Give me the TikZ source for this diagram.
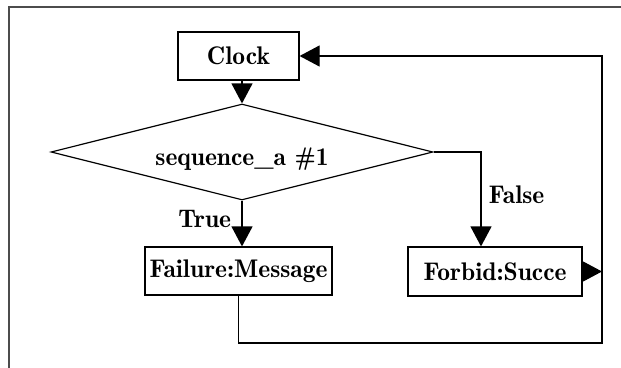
\documentclass[tikz,border=0pt]{standalone}
\usetikzlibrary{arrows.meta,shapes.geometric}

\begin{document}
\begin{tikzpicture}[x=1pt, y=-1pt, line width=1.2pt,
		every node/.style={font=\fontsize{25.5}{29}\fontseries{b}\selectfont},
		box/.style={draw, rectangle, inner sep=0pt},
		flow/.style={-{Triangle[length=20pt, width=21pt]}}]
		% Page size and frame
		\useasboundingbox (0,0) rectangle (621,367);
		\draw[black!70, line width=1.6pt] (9,370) -- (9,7) -- (624,7);
		
		% Blocks
		\node[box, minimum width=121pt, minimum height=48pt] (clock) at (238.5,56) {Clock};
		\node[draw, diamond, inner sep=0pt, minimum width=382pt, minimum height=96pt,
			label={[yshift=-7pt]center:sequence\_a \#1}] (test) at (242,152) {};
		\node[box, minimum width=187pt, minimum height=48pt] (failure) at (238.5,271) {Failure:Message};
		\node[box, minimum width=174pt, minimum height=49pt] (forbid) at (495,271.5) {Forbid:Succe};
		
		% Corners of the lines
		\coordinate (fork) at (481,152);
		\coordinate (loopSE) at (602,343);
		\coordinate (loopNE) at (602,56);
		
		% Arrows
		\draw[flow] (test.north |- clock.south) -- (test.north);
		\draw[flow] (test.south) -- (test.south |- failure.north)
			node[pos=0.4, left, xshift=-7pt] {True};
		\draw[flow] (test.east) -- (fork) -- (fork |- forbid.north)
			node[pos=0.45, right, xshift=4pt] {False};
		\draw[flow] (failure.south) |- (loopSE) -- (loopNE) -- (clock.east);
		\draw[flow] (forbid.east) -- (forbid.east -| loopSE);
		\end{tikzpicture}
\end{document}
